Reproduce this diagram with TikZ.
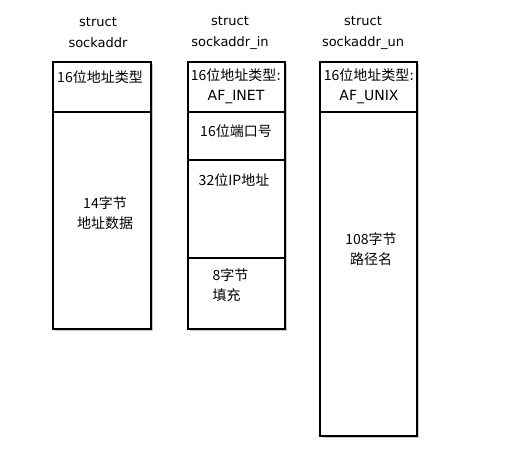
\documentclass[tikz,border=0pt]{standalone}
\usepackage{fontspec}
\setmainfont{DejaVu Sans}
\newfontfamily\cjk{Noto Sans CJK SC}
\usetikzlibrary{positioning,backgrounds,calc}

\begin{document}
\begin{tikzpicture}[
  x=1pt, y=-1pt,
  cell/.style={
    rectangle, draw=black, line width=1.6pt, fill=white,
    outer sep=0pt, inner sep=0pt, minimum width=98pt
  },
  title/.style={align=center, font=\fontsize{13}{21}\selectfont},
  field/.style={align=center, font=\fontsize{14}{20}\selectfont},
  shade/.style={fill=black!22}
]
  \useasboundingbox (0,0) rectangle (528,450);

  % Titles
  \node[title] (ta) at (98,33) {struct\\sockaddr};
  \node[title] (tb) at (230,33) {struct\\sockaddr\_in};
  \node[title] (tc) at (363,33) {struct\\sockaddr\_un};

  % struct sockaddr
  \node[cell, minimum height=50pt, anchor=north west] (a1) at (53,62) {};
  \node[cell, minimum height=217pt, below=0pt of a1] (a2) {};

  % struct sockaddr_in
  \node[cell, minimum width=97pt, minimum height=50pt, anchor=north west] (b1) at (188,62) {};
  \node[cell, minimum width=97pt, minimum height=48pt, below=0pt of b1] (b2) {};
  \node[cell, minimum width=97pt, minimum height=98pt, below=0pt of b2] (b3) {};
  \node[cell, minimum width=97pt, minimum height=71pt, below=0pt of b3] (b4) {};

  % struct sockaddr_un
  \node[cell, minimum width=97pt, minimum height=50pt, anchor=north west] (c1) at (320,62) {};
  \node[cell, minimum width=97pt, minimum height=324pt, below=0pt of c1] (c2) {};

  % Shadows
  \begin{scope}[on background layer]
    \fill[shade] ($(a1.north west)+(2,2)$) rectangle ($(a2.south east)+(2,2)$);
    \fill[shade] ($(b1.north west)+(2,2)$) rectangle ($(b4.south east)+(2,2)$);
    \fill[shade] ($(c1.north west)+(2,2)$) rectangle ($(c2.south east)+(2,2)$);
  \end{scope}

  % Fields
  \node[field] (a1t) at (100,77) {\cjk 16位地址类型};
  \node[field] (a2t) at (105,213) {\cjk 14字节\\\cjk 地址数据};

  \node[field] (b1t) at (236,86.5) {{\cjk 16位地址类型}:\\AF\_INET};
  \node[field] (b2t) at (236,131) {\cjk 16位端口号};
  \node[field] (b3t) at (234,180) {\cjk 32位IP地址};
  \node[field, align=left, anchor=west] (b4t) at (209,285.5) {\cjk 8字节\\\cjk 填充};

  \node[field] (c1t) at (369,86.5) {{\cjk 16位地址类型}:\\AF\_UNIX};
  \node[field] (c2t) at (371,249) {\cjk 108字节\\\cjk 路径名};
\end{tikzpicture}
\end{document}
